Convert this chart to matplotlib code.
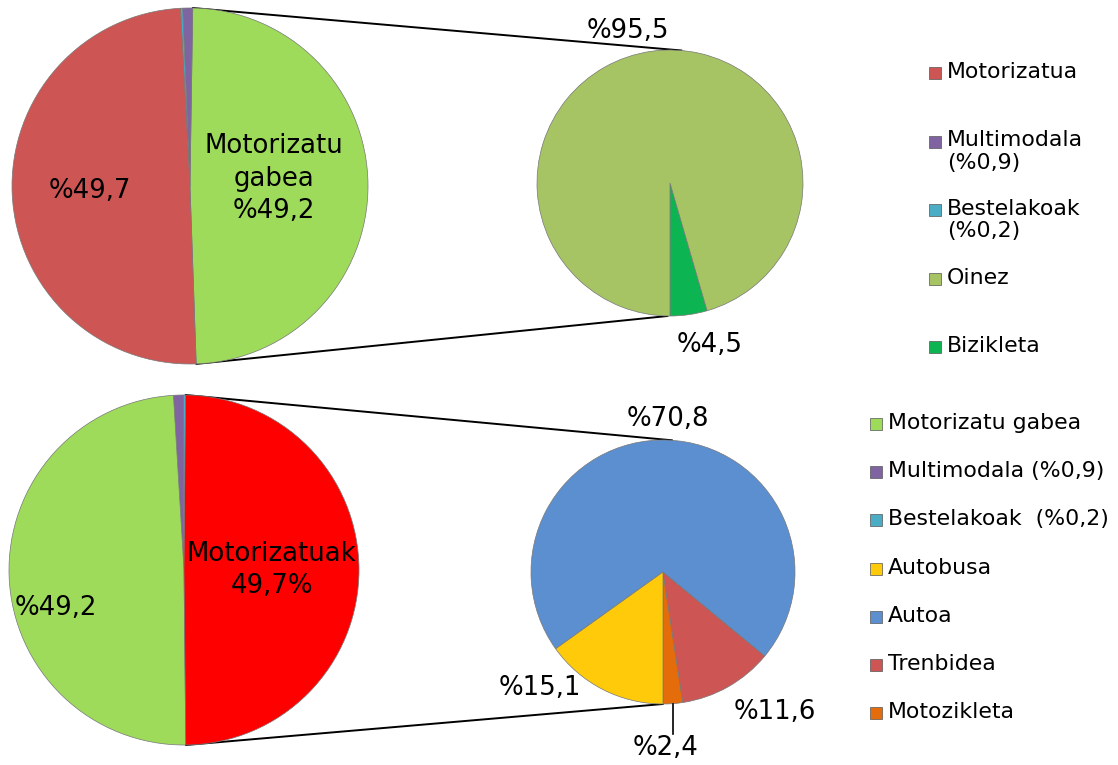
import numpy as np
import matplotlib
matplotlib.use("Agg")
import matplotlib.pyplot as plt
from matplotlib.patches import ConnectionPatch, Rectangle

# --- datuak ---
# goiko grafikoa
top_big_labels = ["Motorizatu gabea", "Multimodala", "Bestelakoak", "Motorizatua"]
top_big_values = [49.2, 0.9, 0.2, 49.7]
top_big_colors = ["#9FDB5A", "#8064A2", "#4BACC6", "#CD5654"]

top_small_labels = ["Bizikleta", "Oinez"]
top_small_values = [4.5, 95.5]
top_small_colors = ["#0DB552", "#A6C464"]

top_legend = ["Motorizatua", "Multimodala\n(%0,9)", "Bestelakoak\n(%0,2)", "Oinez", "Bizikleta"]
top_legend_colors = ["#CD5654", "#8064A2", "#4BACC6", "#A6C464", "#0DB552"]

# beheko grafikoa
bot_big_labels = ["Bestelakoak", "Multimodala", "Motorizatu gabea", "Motorizatuak"]
bot_big_values = [0.2, 0.9, 49.2, 49.7]
bot_big_colors = ["#4BACC6", "#8064A2", "#9FDB5A", "#FF0000"]

bot_small_labels = ["Motozikleta", "Trenbidea", "Autoa", "Autobusa"]
bot_small_values = [2.4, 11.6, 70.8, 15.1]
bot_small_colors = ["#E46C0A", "#CD5654", "#5B8FD0", "#FFCA0A"]

bot_legend = ["Motorizatu gabea", "Multimodala (%0,9)", "Bestelakoak  (%0,2)",
              "Autobusa", "Autoa", "Trenbidea", "Motozikleta"]
bot_legend_colors = ["#9FDB5A", "#8064A2", "#4BACC6", "#FFCA0A", "#5B8FD0", "#CD5654", "#E46C0A"]

W, H = 1118, 765
fig = plt.figure(figsize=(W / 100, H / 100), dpi=100)
fig.patch.set_facecolor("white")

LBL = 18.7
LEG = 15.8


def pie_ax(cx, cy, r):
    # cx, cy, r pixeletan (y goitik)
    ax = fig.add_axes([(cx - r) / W, (H - cy - r) / H, 2 * r / W, 2 * r / H])
    ax.patch.set_visible(False)
    return ax


def draw_pie(ax, values, colors, start, ccw):
    wedges, _ = ax.pie(values, colors=colors, startangle=start, counterclock=ccw,
                       radius=1, wedgeprops=dict(edgecolor="#777777", linewidth=0.5))
    ax.set_xlim(-1, 1)
    ax.set_ylim(-1, 1)
    ax.set_axis_off()
    return wedges


def connect(ax_a, ang_a, ax_b, ang_b):
    a = np.radians(ang_a)
    b = np.radians(ang_b)
    con = ConnectionPatch(xyA=(np.cos(a), np.sin(a)), coordsA=ax_a.transData,
                          xyB=(np.cos(b), np.sin(b)), coordsB=ax_b.transData,
                          color="black", lw=1.4, zorder=-1)
    fig.add_artist(con)


# ---------- goiko pie-of-pie ----------
ax1 = pie_ax(190, 186, 178)
w1 = draw_pie(ax1, top_big_values, top_big_colors, -88, True)
ax1.text(-0.56, -0.03, "%49,7", fontsize=LBL, ha="center", va="center")
ax1.text(0.47, 0.04, "Motorizatu\ngabea\n%49,2", fontsize=LBL, ha="center", va="center",
         linespacing=1.32)

ax2 = pie_ax(670, 183, 133)
draw_pie(ax2, top_small_values, top_small_colors, -90, True)
ax2.text(-0.32, 1.14, "%95,5", fontsize=LBL, ha="center", va="center")
ax2.text(0.30, -1.22, "%4,5", fontsize=LBL, ha="center", va="center")

g = w1[0]
connect(ax1, g.theta2, ax2, 85)
connect(ax1, g.theta1, ax2, -91)

# ---------- beheko pie-of-pie ----------
ax3 = pie_ax(184, 570, 175)
w3 = draw_pie(ax3, bot_big_values, bot_big_colors, 89.5, True)
ax3.text(-0.73, -0.22, "%49,2", fontsize=LBL, ha="center", va="center")
ax3.text(0.50, 0.0, "Motorizatuak\n49,7%", fontsize=LBL, ha="center", va="center",
         linespacing=1.28)

ax4 = pie_ax(663, 572, 132)
w4 = draw_pie(ax4, bot_small_values, bot_small_colors, -90, True)
ax4.text(0.04, 1.16, "%70,8", fontsize=LBL, ha="center", va="center")
ax4.text(-0.93, -0.88, "%15,1", fontsize=LBL, ha="center", va="center")
ax4.text(0.85, -1.06, "%11,6", fontsize=LBL, ha="center", va="center")
ax4.text(0.02, -1.33, "%2,4", fontsize=LBL, ha="center", va="center")
m = np.radians((w4[0].theta1 + w4[0].theta2) / 2)
ax4.plot([np.cos(m), np.cos(m)], [np.sin(m), -1.23], color="black", lw=1.2, clip_on=False)

r = w3[3]
connect(ax3, r.theta2, ax4, 86)
connect(ax3, r.theta1, ax4, -90)


# ---------- legendak ----------
def legend(x_px, y0_px, step_px, labels, colors):
    for i, (lab, col) in enumerate(zip(labels, colors)):
        y = y0_px + i * step_px
        fig.add_artist(Rectangle((x_px / W, (H - y - 6) / H), 12 / W, 12 / H,
                                 transform=fig.transFigure, facecolor=col,
                                 edgecolor="#555555", linewidth=0.5))
        fig.text((x_px + 18) / W, (H - y + 11) / H, lab, fontsize=LEG, ha="left", va="top",
                 linespacing=1.15)


legend(929, 73, 68.5, top_legend, top_legend_colors)
legend(870, 424, 48.2, bot_legend, bot_legend_colors)

fig.savefig("out.png", dpi=100)
